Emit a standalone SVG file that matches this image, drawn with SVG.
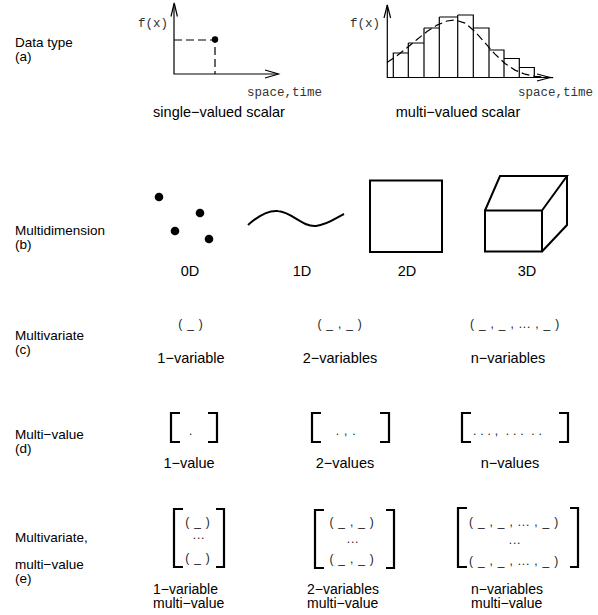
<svg xmlns="http://www.w3.org/2000/svg" width="598" height="615" viewBox="0 0 598 615">
<style>
.lbl{font-family:"Liberation Sans",Arial,sans-serif;font-size:14.5px;fill:#000}
.cap{font-family:"Liberation Sans",Arial,sans-serif;font-size:14px;fill:#000}
.side{font-family:"Liberation Sans",Arial,sans-serif;font-size:13.5px;fill:#000}
.c{text-anchor:middle}
.mono{font-family:"Liberation Mono","Courier New",monospace;font-size:12.5px;fill:#333}
.tup{font-family:"Liberation Sans",Arial,sans-serif;font-size:12px;fill:#222;letter-spacing:0.8px;text-anchor:middle}
.ln{fill:none;stroke:#000;stroke-width:1.2}
.dash{fill:none;stroke:#000;stroke-width:1.2;stroke-dasharray:8 4}
.thick{fill:none;stroke:#000;stroke-width:2}
.br{fill:none;stroke:#000;stroke-width:2.2}
</style>
<rect width="598" height="615" fill="#fff"/>

<g id="row-labels">
  <text class="side" x="15" y="47">Data type</text>
  <text class="side" x="15" y="60.5">(a)</text>
  <text class="side" x="15" y="235">Multidimension</text>
  <text class="side" x="15" y="248.5">(b)</text>
  <text class="side" x="15" y="340">Multivariate</text>
  <text class="side" x="15" y="353.5">(c)</text>
  <text class="side" x="15" y="439">Multi−value</text>
  <text class="side" x="15" y="452.5">(d)</text>
  <text class="side" x="15" y="542">Multivariate,</text>
  <text class="side" x="15" y="569">multi−value</text>
  <text class="side" x="15" y="582.5">(e)</text>
</g>

<g id="single-valued-scalar">
  <text class="mono" x="138" y="27">f(x)</text>
  <path class="ln" d="M174,4 V74 H278"/>
  <polyline class="ln" points="171,16.5 174.2,3 177.4,16.5"/>
  <polyline class="ln" points="265,70 278.5,74 265,78"/>
  <path class="dash" d="M174,40 H215 V74"/>
  <circle cx="215" cy="39.5" r="3.2" fill="#000"/>
  <text class="mono" x="247" y="96">space,time</text>
  <text class="lbl c" x="219" y="117">single−valued scalar</text>
</g>

<g id="multi-valued-scalar">
  <text class="mono" x="350" y="27">f(x)</text>
  <path class="ln" d="M387.3,5 V77.5 H550"/>
  <polyline class="ln" points="384,18 387.3,5 390.6,18"/>
  <polyline class="ln" points="537,74 550,77.5 537,81"/>
  <path class="ln" d="M393.3,77.5 V53 H408.3 V77.5 M408.3,43 H424 V77.5 M424,28 H439.3 V77.5 M439.3,17 H457.7 V77.5 M457.7,15 H473.3 V77.5 M473.3,28 H489 V77.5 M489,50 H504 V77.5 M504,58.5 H519.3 V77.5 M519.3,67.5 H534.3 V77.5 M408.3,53 V43 M424,43 V28 M439.3,28 V17 M457.7,17 V15 M473.3,15 V28 M489,28 V50 M504,50 V58.5 M519.3,58.5 V67.5"/>
  <polyline class="dash" stroke-dasharray="7 4" points="387,62.4 397,55.7 407,47.8 417,39.5 427,31.6 437,25.1 447,21 455,20 465,23.1 475,31.6 485,42.8 495,54.2 505,63.5 515,70.1 525,74.2 535,76.3 545,77.3 557,77.7"/>
  <text class="mono" x="518" y="96">space,time</text>
  <text class="lbl c" x="458" y="117">multi−valued scalar</text>
</g>

<g id="dim-0d">
  <circle cx="159" cy="197" r="4.3" fill="#000"/>
  <circle cx="200" cy="213" r="4.3" fill="#000"/>
  <circle cx="175" cy="231" r="4.3" fill="#000"/>
  <circle cx="209" cy="239" r="4.3" fill="#000"/>
  <text class="lbl c" x="190" y="276">0D</text>
</g>
<g id="dim-1d">
  <path class="thick" d="M248,225 C258,216 268,210 278,211 C292,212 302,227 316,226 C327,225 336,218 344,214"/>
  <text class="lbl c" x="302" y="276">1D</text>
</g>
<g id="dim-2d">
  <rect class="thick" x="370" y="180.5" width="72" height="71.5"/>
  <text class="lbl c" x="407" y="276">2D</text>
</g>
<g id="dim-3d">
  <path class="thick" d="M485,210.5 H542 V251.5 H485 Z M485,210.5 L500,176 H567 L542,210.5 M567,176 V225 L542,251.5"/>
  <text class="lbl c" x="527" y="276">3D</text>
</g>

<g id="multivariate-1">
  <text class="tup" x="191" y="328">( _ )</text>
  <text class="lbl c" x="191" y="363">1−variable</text>
</g>
<g id="multivariate-2">
  <text class="tup" x="340" y="328">( _ , _ )</text>
  <text class="lbl c" x="340" y="363">2−variables</text>
</g>
<g id="multivariate-n">
  <text class="tup" x="515" y="328">( _ , _ , ... , _ )</text>
  <text class="lbl c" x="508" y="363">n−variables</text>
</g>

<g id="multivalue-1">
  <path class="br" d="M180,413 H171 V442 H180 M208,413 H217 V442 H208"/>
  <text class="tup" x="191" y="435">.</text>
  <text class="lbl c" x="189" y="468">1−value</text>
</g>
<g id="multivalue-2">
  <path class="br" d="M321,413 H312 V442 H321 M380,413 H389 V442 H380"/>
  <text class="tup" x="346" y="435">. , .</text>
  <text class="lbl c" x="345" y="468">2−values</text>
</g>
<g id="multivalue-n">
  <path class="br" d="M471,413 H462 V442 H471 M559,413 H568 V442 H559"/>
  <text class="tup" x="473" y="435" style="text-anchor:start;white-space:pre;letter-spacing:0.3px">. . . ,  . . .  . .</text>
  <text class="lbl c" x="510" y="468">n−values</text>
</g>

<g id="mvmv-1">
  <path class="br" d="M183,509 H174 V567 H183 M216,509 H224 V567 H216"/>
  <text class="tup" x="198" y="526">( _ )</text>
  <text class="tup" x="199" y="539">...</text>
  <text class="tup" x="198" y="562">( _ )</text>
  <text class="cap" x="153" y="593.5">1−variable</text>
  <text class="cap" x="153" y="608">multi−value</text>
</g>
<g id="mvmv-2">
  <path class="br" d="M324,510 H315 V568 H324 M386,510 H394 V568 H386"/>
  <text class="tup" x="352" y="526">( _ , _ )</text>
  <text class="tup" x="353" y="543">...</text>
  <text class="tup" x="352" y="563">( _ , _ )</text>
  <text class="cap" x="307" y="593.5">2−variables</text>
  <text class="cap" x="307" y="608">multi−value</text>
</g>
<g id="mvmv-n">
  <path class="br" d="M467,508 H458 V567 H467 M570,508 H578 V567 H570"/>
  <text class="tup" x="514" y="526">( _ , _ , ... , _ )</text>
  <text class="tup" x="515" y="544">...</text>
  <text class="tup" x="514" y="565">( _ , _ , ... , _ )</text>
  <text class="cap" x="471" y="593.5">n−variables</text>
  <text class="cap" x="471" y="608">multi−value</text>
</g>

<g id="connectors"></g>
</svg>
